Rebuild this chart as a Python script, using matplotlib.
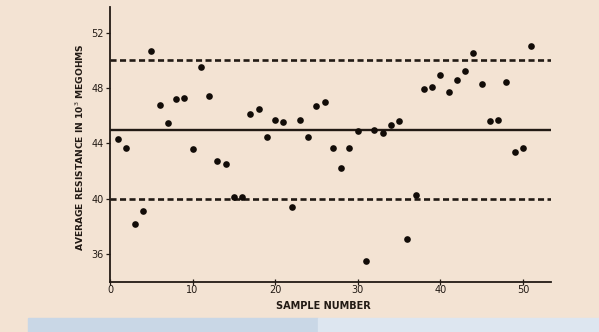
#!/usr/bin/env python3
"""
Control chart: average resistance per sample with mean and limit lines.
Saves out.png (599x332).
"""
import matplotlib
matplotlib.use('Agg')
import matplotlib.pyplot as plt
from matplotlib.patches import Rectangle

# ---------- Data ----------
SAMPLES = list(range(1, 52))
RESISTANCE = [
    44.3, 43.7, 38.2, 39.1, 50.7, 46.8, 45.5, 47.2, 47.3, 43.6,
    49.5, 47.4, 42.7, 42.5, 40.1, 40.1, 46.1, 46.5, 44.45, 45.7,
    45.55, 39.4, 45.7, 44.5, 46.7, 47.0, 43.65, 42.25, 43.7, 44.9,
    35.5, 45.0, 44.75, 45.35, 45.65, 37.1, 40.3, 47.95, 48.05, 48.95,
    47.7, 48.6, 49.25, 50.5, 48.3, 45.6, 45.7, 48.45, 43.4, 43.7,
    51.0,
]
CENTER_LINE = 45.0
LIMITS = [50.0, 40.0]
X_TICKS = [0, 10, 20, 30, 40, 50]
Y_TICKS = [36, 40, 44, 48, 52]
X_LABEL = 'SAMPLE NUMBER'
Y_LABEL = 'AVERAGE RESISTANCE IN 10$^3$ MEGOHMS'

# ---------- Style ----------
BG = '#F3E3D3'
INK = '#221a14'


def main():
    fig = plt.figure(figsize=(5.99, 3.32), dpi=100, facecolor=BG)
    ax = fig.add_axes([0.1836, 0.1506, 0.7363, 0.8284])
    ax.set_facecolor(BG)

    # screenshot strip along the bottom edge
    fig.patches.append(Rectangle((28 / 599, 0), 290 / 599, 14 / 332,
                                 transform=fig.transFigure, color='#c9d7e6', zorder=0))
    fig.patches.append(Rectangle((318 / 599, 0), 281 / 599, 14 / 332,
                                 transform=fig.transFigure, color='#dde6f0', zorder=0))

    ax.axhline(CENTER_LINE, color=INK, linewidth=1.7, zorder=2)
    for lim in LIMITS:
        ax.axhline(lim, color=INK, linewidth=1.9, dashes=(2.3, 1.3), zorder=2)

    ax.plot(SAMPLES, RESISTANCE, 'o', color='#120c08', markersize=4.8,
            markeredgewidth=0, zorder=3)

    ax.set_xlim(0, 53.4)
    ax.set_ylim(34.0, 53.85)
    ax.set_xticks(X_TICKS)
    ax.set_yticks(Y_TICKS)

    for side in ['top', 'right']:
        ax.spines[side].set_visible(False)
    for side in ['left', 'bottom']:
        ax.spines[side].set_color(INK)
        ax.spines[side].set_linewidth(1.3)

    ax.tick_params(axis='x', direction='inout', length=4, width=0.9, pad=0,
                   labelsize=7, colors=INK)
    ax.tick_params(axis='y', direction='out', length=3, width=0.9, pad=1.5,
                   labelsize=7, colors=INK)

    ax.set_xlabel(X_LABEL, fontsize=7, fontweight='bold', color=INK)
    ax.xaxis.set_label_coords(0.483, -0.07)
    ax.set_ylabel(Y_LABEL, fontsize=6.6, fontweight='bold', color=INK)
    ax.yaxis.set_label_coords(-0.055, 0.49)

    fig.savefig('out.png', dpi=100, facecolor=BG)
    plt.close(fig)


if __name__ == '__main__':
    main()
